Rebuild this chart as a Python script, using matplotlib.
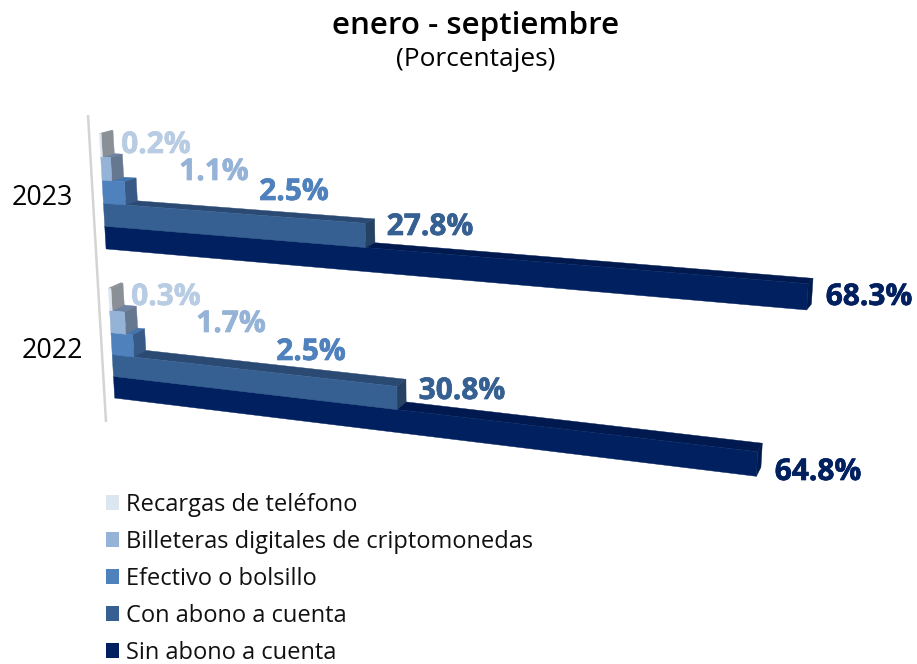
import numpy as np
import matplotlib
matplotlib.use("Agg")
import matplotlib.pyplot as plt
import matplotlib.patheffects as pe
from matplotlib.patches import Polygon, Patch
from matplotlib.transforms import Transform

# ---- data ----
years = ["2023", "2022"]
series = ["Sin abono a cuenta", "Con abono a cuenta", "Efectivo o bolsillo",
          "Billeteras digitales de criptomonedas", "Recargas de teléfono"]
values_2023 = [68.3, 27.8, 2.5, 1.1, 0.2]
values_2022 = [64.8, 30.8, 2.5, 1.7, 0.3]

# ---- styles ----
front_colors = ["#00205f", "#366092", "#4f81bd", "#95b3d7", "#dce6f1"]
top_colors = ["#001a50", "#2b4a73", "#4474b0", "#6e83a3", "#8b9199"]
side_colors = ["#001a4e", "#254264", "#365a85", "#66788f", "#8b9097"]
label_colors = ["#00205f", "#366092", "#4f81bd", "#95b3d7", "#b8cce4"]
legend_colors = ["#00205f", "#366092", "#4f81bd", "#95b3d7", "#dce6f1"]

# vertical position of each year's lowest band, in band units
group_base = {"2023": 6.75, "2022": 0.0}

# label centres on the picture plane (layout only)
label_pos = {
    "2023": [(869, 297), (430, 227), (294, 192), (214, 172), (156, 145)],
    "2022": [(818, 472), (462, 391), (311, 352), (231, 324), (166, 297)],
}

# ---- perspective calibration: (value, band) -> picture plane ----
front_cal = [
    (0, 0, 114, 398), (64.8, 0, 757, 477), (64.8, 1, 757, 452), (0, 6.75, 105, 249),
    (68.3, 6.75, 807, 310), (68.3, 7.75, 808, 284), (27.8, 7.75, 365, 248),
    (27.8, 8.75, 365, 224), (30.8, 1, 397, 410), (30.8, 2, 397, 383), (0, 1, 113, 377),
    (0, 2, 112, 357), (0, 11.75, 100, 133), (0, 5, 110, 288), (0, 7.75, 103, 227),
    (0, 8.75, 102, 205), (2.5, 9.75, 126, 180), (2.5, 3, 135, 333),
]
back_cal = [
    (68.3, 7.75, 813, 278), (27.8, 8.75, 375, 218), (27.8, 7.75, 375, 243),
    (2.5, 9.75, 137, 177), (2.5, 3, 146, 328), (30.8, 2, 406, 379), (64.8, 1, 762, 444),
    (1.1, 10.75, 122, 155), (0.2, 11.75, 113, 132), (1.7, 4, 136, 307), (0.3, 5, 123, 284),
    (0, 9.75, 113, 175), (0, 3, 122, 326),
]


def fit_h(cal):
    rows, rhs = [], []
    for u, v, x, y in cal:
        rows.append([u, v, 1, 0, 0, 0, -u * x, -v * x]); rhs.append(x)
        rows.append([0, 0, 0, u, v, 1, -u * y, -v * y]); rhs.append(y)
    p = np.linalg.lstsq(np.array(rows, float), np.array(rhs, float), rcond=None)[0]
    return np.append(p, 1).reshape(3, 3)


class Projective(Transform):
    input_dims = output_dims = 2

    def __init__(self, h):
        super().__init__()
        self.h = h

    def transform_non_affine(self, pts):
        pts = np.asarray(pts, float)
        q = np.c_[pts, np.ones(len(pts))] @ self.h.T
        return q[:, :2] / q[:, 2:]


front = Projective(fit_h(front_cal))
back = Projective(fit_h(back_cal))

# ---- figure ----
plt.rcParams["font.family"] = ["Open Sans", "DejaVu Sans"]
W, H = 917, 664
fig = plt.figure(figsize=(W / 100, H / 100), dpi=100, facecolor="white")
ax = fig.add_axes([0, 0, 1, 1])
ax.set_xlim(0, W)
ax.set_ylim(H, 0)
ax.set_axis_off()


def face(pts, color, z):
    ax.add_patch(Polygon(pts, closed=True, facecolor=color, edgecolor=color, lw=0.3, zorder=z))


ax.plot([88, 106], [115, 422], color="#d4d4d4", lw=1.8, zorder=1, solid_capstyle="butt")

for year, vals in zip(years, (values_2023, values_2022)):
    base = group_base[year]
    for i, v in enumerate(vals):
        s0, s1 = base + i, base + i + 1
        f = front.transform([(0, s0), (v, s0), (v, s1), (0, s1)])
        b = back.transform([(0, s0), (v, s0), (v, s1), (0, s1)])
        z = 2 + i
        face([f[3], f[2], b[2], b[3]], top_colors[i], z)
        face([f[1], f[2], b[2], b[1]], side_colors[i], z + 0.1)
        face(f, front_colors[i], z + 0.2)
        lx, ly = label_pos[year][i]
        ax.text(lx, ly, f"{v:.1f}%", color=label_colors[i], fontsize=21.5, fontweight="bold",
                ha="center", va="center", zorder=10,
                path_effects=[pe.withStroke(linewidth=0.5, foreground=label_colors[i])])

ax.text(42, 198, "2023", ha="center", va="center", fontsize=19.3, color="black")
ax.text(52, 351, "2022", ha="center", va="center", fontsize=19.3, color="black")

ax.text(476, 26, "enero - septiembre", ha="center", va="center", fontsize=22.6, fontweight="semibold", color="black")
ax.text(476, 60, "(Porcentajes)", ha="center", va="center", fontsize=18.9, color="black")

handles = [Patch(facecolor=legend_colors[i], edgecolor="none") for i in range(4, -1, -1)]
labels = [series[i] for i in range(4, -1, -1)]
fig.legend(handles, labels, loc="upper left", bbox_to_anchor=(101.5 / W, 1 - 488 / H), frameon=False,
           fontsize=17, handlelength=0.56, handleheight=0.56, handletextpad=0.27,
           labelspacing=0.55, borderpad=0.2, borderaxespad=0, labelcolor="#111111")

fig.savefig("out.png", dpi=100, facecolor="white")
